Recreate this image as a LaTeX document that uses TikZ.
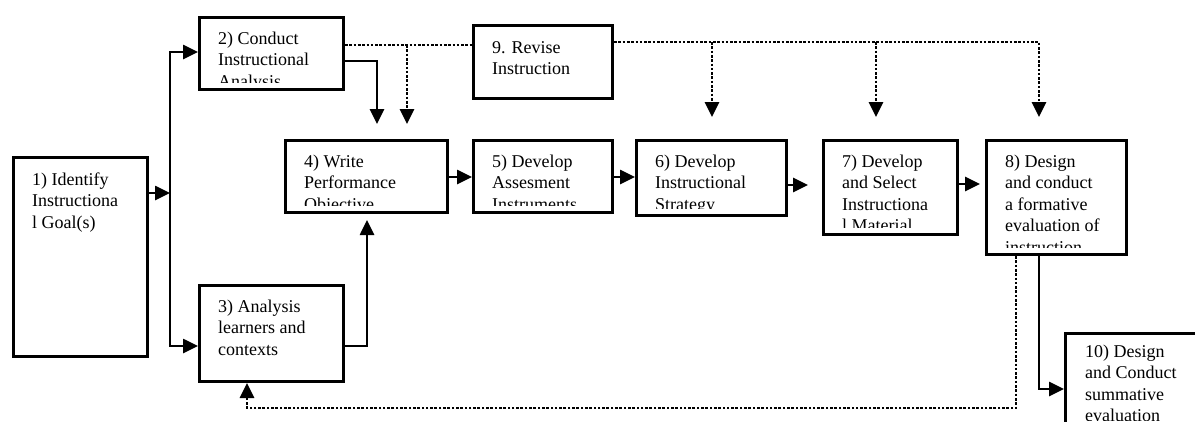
\documentclass[tikz,border=0pt]{standalone}
\usepackage{fontspec}
\setmainfont{Liberation Serif}
\usetikzlibrary{arrows.meta}
\tikzset{
  steptip/.tip={Triangle[length=15pt,width=14pt]},
  stepbox/.style={draw, line width=3pt, inner sep=0pt, anchor=north west},
  boxtxt/.style={inner sep=0pt, align=left, anchor=north west,
                 font=\fontsize{18}{21.5}\selectfont},
  link/.style={line width=2.6pt, -{steptip}},
  feedback/.style={link, line width=2.8pt, dash pattern=on 2.6pt off 1.7pt},
}
% box: name, x, y (top left), width, height
\newcommand\stepnode[5]{\node[stepbox, minimum width=#4pt, minimum height=#5pt] (#1) at (#2,#3) {};}
% text inside a box, cut off above the box's bottom margin
\newcommand\steptext[4]{%
  \begin{scope}
    \clip (#1.north west) rectangle ([yshift=9pt]#1.south east);
    \node[boxtxt] (#1t) at (#2,#3) {\strut #4};
  \end{scope}}
\begin{document}
\begin{tikzpicture}[x=1pt,y=-1pt]
\useasboundingbox (0,0) rectangle (1195,421);
\clip (0,0) rectangle (1195,421);

% boxes
\stepnode{b1}{12}{156}{134}{199}
\stepnode{b2}{198}{16}{144}{72}
\stepnode{b3}{198}{284}{144}{96}
\stepnode{b4}{284}{139}{162}{72}
\stepnode{b5}{472}{139}{139}{72}
\stepnode{b6}{635}{139}{150}{75}
\stepnode{b7}{822}{139}{134}{94}
\stepnode{b8}{985}{139}{140}{114}
\stepnode{b9}{472}{24}{139}{73}
\stepnode{b10}{1064}{332}{200}{94}

% box texts
\steptext{b1}{32}{170}{1) Identify\\Instructiona\\l Goal(s)}
\steptext{b2}{218}{29}{2) Conduct\\Instructional\\Analysis}
\steptext{b3}{218}{297}{3) Analysis\\learners and\\contexts}
\steptext{b4}{304}{152}{4) Write\\Performance\\Objective}
\steptext{b5}{492}{152}{5) Develop\\Assesment\\Instruments}
\steptext{b6}{655}{152}{6) Develop\\Instructional\\Strategy}
\steptext{b7}{842}{152}{7) Develop\\and Select\\Instructiona\\l Material}
\steptext{b8}{1005}{152}{8) Design\\and conduct\\a formative\\evaluation of\\instruction}
\steptext{b9}{492}{38}{9. Revise\\Instruction}
\steptext{b10}{1085}{342}{10) Design\\and Conduct\\summative\\evaluation}

% junction and end points
\coordinate (j1) at (170,193);
\coordinate (s1) at (170,52);
\coordinate (s2) at (170,346);
\coordinate (c2) at (377,61);
\coordinate (t1) at (377,124);
\coordinate (d1) at (407,45);
\coordinate (t2) at (407,124);
\coordinate (c3) at (367,346);
\coordinate (t3) at (367,220);
\coordinate (d2) at (1039,42);
\coordinate (t5) at (1039,117);
\coordinate (d3) at (712,42);
\coordinate (t6) at (712,117);
\coordinate (d4) at (876,42);
\coordinate (t7) at (876,117);
\coordinate (row) at (0,177);
\coordinate (e6) at (808,185);
\coordinate (e7) at (980,184);
\coordinate (c8) at (1039,389);
\coordinate (c9) at (1016,408);
\coordinate (c10) at (247,408);

% main flow
\draw[link] (b1.east |- j1) -- (j1);
\draw[link, {steptip}-{steptip}] (b2.west |- s1) -- (s1) -- (s2) -- (b3.west |- s2);
\draw[link] (b2.east |- c2) -- (c2) -- (t1);
\draw[link] (b3.east |- c3) -- (c3) -- (t3);
\draw[link] (b4.east |- row) -- (b5.west |- row);
\draw[link] (b5.east |- row) -- (b6.west |- row);
\draw[link] (b6.east |- e6) -- (e6);
\draw[link] (b7.east |- e7) -- (e7);
\draw[link] (b8.south -| c8) -- (c8) -- (b10.west |- c8);

% revision paths
\draw[feedback, -] (b2.east |- d1) -- (b9.west |- d1);
\draw[feedback] (d1) -- (t2);
\draw[feedback] (b9.east |- d2) -- (d2) -- (t5);
\draw[feedback] (d3) -- (t6);
\draw[feedback] (d4) -- (t7);
\draw[feedback] (b8.south -| c9) -- (c9) -- (c10) -- (b3.south -| c10);
\end{tikzpicture}
\end{document}
